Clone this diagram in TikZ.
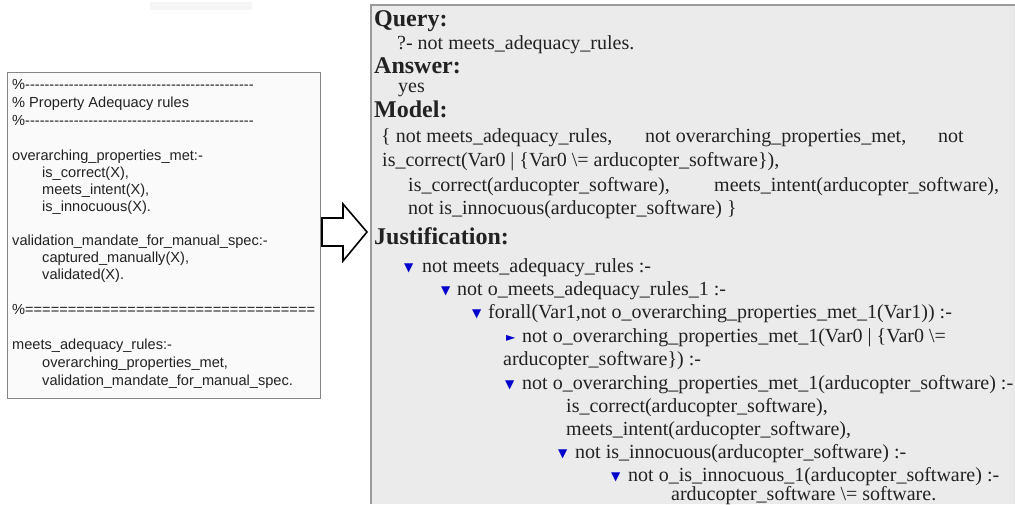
\documentclass[tikz,border=0pt]{standalone}
\usepackage{fontspec}
\setmainfont{Liberation Serif}
\newfontfamily\arialf{Liberation Sans}
\newfontfamily\dejavuf{DejaVu Sans}
\definecolor{rbg}{HTML}{EBEBEB}
\definecolor{rborder}{HTML}{9A9A9A}
\definecolor{lbg}{HTML}{FAFAFA}
\definecolor{lborder}{HTML}{858585}
\definecolor{txt}{HTML}{222222}
\definecolor{tri}{HTML}{0000CC}
\begin{document}
\begin{tikzpicture}[x=1pt,y=-1pt,
  ltext/.style={anchor=base west,inner sep=0pt,text=txt,font=\arialf\fontsize{14.6}{17}\selectfont},
  rtext/.style={anchor=base west,inner sep=0pt,text=txt,font=\fontsize{20}{23}\selectfont},
  rhead/.style={anchor=base west,inner sep=0pt,text=txt,font=\bfseries\fontsize{24}{27}\selectfont},
  tridown/.style={anchor=base west,inner sep=0pt,text=tri,font=\dejavuf\fontsize{12}{14}\selectfont},
  triright/.style={anchor=base west,inner sep=0pt,text=tri,font=\dejavuf\fontsize{12}{14}\selectfont},
]
\useasboundingbox (0,0) rectangle (1015,504);
\fill[white] (0,0) rectangle (1015,504);
% faint top bar
\fill[black!4] (150,2) rectangle (252,10);
% left box
\draw[lborder,fill=lbg,line width=1pt] (7.5,72.5) rectangle (320,398);
% right box
\fill[rbg] (371,5) rectangle (1015,504);
\draw[rborder,line width=1.6pt] (371,504) -- (371,5) -- (1015,5);
\draw[white!90!black,line width=1pt] (1013,6) -- (1013,504);
% block arrow
\draw[black,line width=1.6pt,line join=miter,fill=white]
  (322,218) -- (343,218) -- (343,204) -- (367,232) -- (343,261) -- (343,246) -- (322,246) -- cycle;

% left text
\node[ltext] (l1) at (12,89) {\%-----------------------------------------------};
\node[ltext] (l2) at (12,107) {\% Property Adequacy rules};
\node[ltext] (l3) at (12,125) {\%-----------------------------------------------};
\node[ltext] (l4) at (12,160) {overarching\_properties\_met:-};
\node[ltext] (l5) at (42,177) {is\_correct(X),};
\node[ltext] (l6) at (42,194) {meets\_intent(X),};
\node[ltext] (l7) at (42,211) {is\_innocuous(X).};
\node[ltext] (l8) at (12,245) {validation\_mandate\_for\_manual\_spec:-};
\node[ltext] (l9) at (42,262) {captured\_manually(X),};
\node[ltext] (l10) at (42,279) {validated(X).};
\node[ltext] (l11) at (12,314) {\%==================================};
\node[ltext] (l12) at (12,349) {meets\_adequacy\_rules:-};
\node[ltext] (l13) at (42,367) {overarching\_properties\_met,};
\node[ltext] (l14) at (42,385) {validation\_mandate\_for\_manual\_spec.};

% right text
\node[rhead] (hq) at (374,26) {Query:};
\node[rtext] (q1) at (397,49) {?-\hspace{5pt}not meets\_adequacy\_rules.};
\node[rhead] (ha) at (374,73) {Answer:};
\node[rtext] (a1) at (398,92) {yes};
\node[rhead] (hm) at (374,117) {Model:};
\node[rtext] (m1a) at (381,142) {\{ not meets\_adequacy\_rules,};
\node[rtext] (m1b) at (645,142) {not overarching\_properties\_met,};
\node[rtext] (m1c) at (938,142) {not};
\node[rtext] (m2) at (382,166) {is\_correct(Var0 | \{Var0 \textbackslash= arducopter\_software\}),};
\node[rtext] (m3a) at (408,191) {is\_correct(arducopter\_software),};
\node[rtext] (m3b) at (714,191) {meets\_intent(arducopter\_software),};
\node[rtext] (m4) at (408,214) {not is\_innocuous(arducopter\_software) \}};
\node[rhead] (hj) at (374,244) {Justification:};

\node[tridown] (t1) at (404,271) {▼};
\node[rtext] (j1) at (422,272) {not meets\_adequacy\_rules :-};
\node[tridown] (t2) at (441,294) {▼};
\node[rtext] (j2) at (457,295) {not o\_meets\_adequacy\_rules\_1 :-};
\node[tridown] (t3) at (472,317) {▼};
\node[rtext] (j3) at (488,318) {forall(Var1,not o\_overarching\_properties\_met\_1(Var1)) :-};
\node[triright] (t4) at (506,341) {►};
\node[rtext] (j4) at (522,342) {not o\_overarching\_properties\_met\_1(Var0 | \{Var0 \textbackslash=};
\node[rtext] (j5) at (503,365) {arducopter\_software\}) :-};
\node[tridown] (t6) at (505,388) {▼};
\node[rtext] (j6) at (522,389) {not o\_overarching\_properties\_met\_1(arducopter\_software) :-};
\node[rtext] (j7) at (566,412) {is\_correct(arducopter\_software),};
\node[rtext] (j8) at (566,435) {meets\_intent(arducopter\_software),};
\node[tridown] (t9) at (558,457) {▼};
\node[rtext] (j9) at (575,458) {not is\_innocuous(arducopter\_software) :-};
\node[tridown] (t10) at (611,480) {▼};
\node[rtext] (j10) at (628,481) {not o\_is\_innocuous\_1(arducopter\_software) :-};
\node[rtext] (j11) at (671,500) {arducopter\_software \textbackslash= software.};
\end{tikzpicture}
\end{document}
